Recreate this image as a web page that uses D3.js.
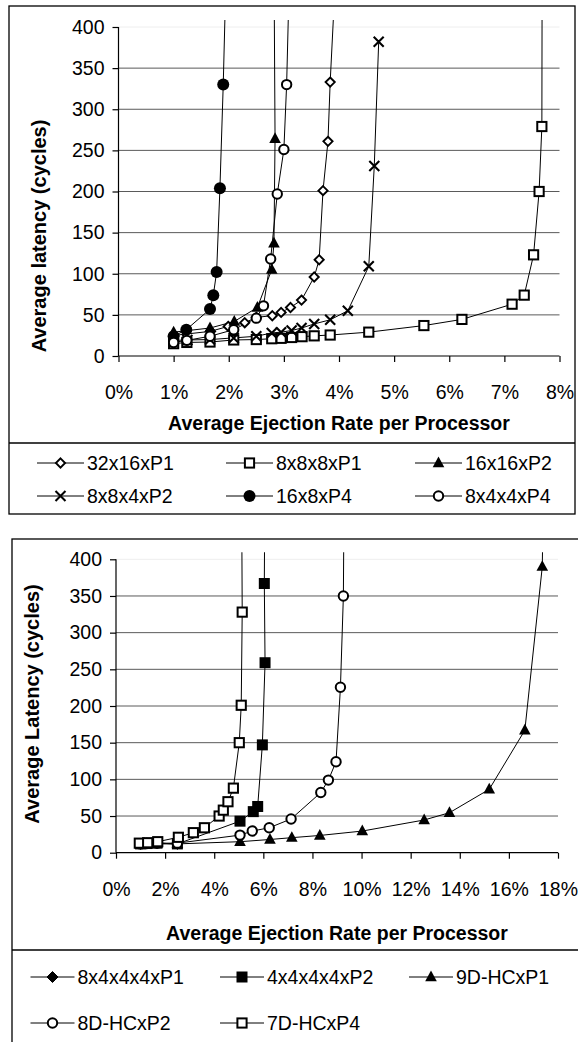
<!DOCTYPE html>
<html>
<head>
<meta charset="utf-8">
<script src="https://cdn.jsdelivr.net/npm/d3@7"></script>
<style>
  body { margin: 0; background: #fff; }
  svg { display: block; font-family: "Liberation Sans", Arial, sans-serif; }
</style>
</head>
<body>
<svg id="chart" width="578" height="1042"></svg>
<script>
// ---- data: [ejection rate %, latency cycles] ----
// top chart
const p32x16xP1 = [[1,25],[1.67,30],[1.99,36],[2.29,40.5],[2.5,47],[2.79,49],[2.95,53],[3.12,59],[3.32,68],[3.55,96],[3.64,117],[3.71,201],[3.8,261],[3.84,333],[4.04,600]];
const p8x8x8xP1 = [[1,15],[1.24,16.5],[1.66,17],[2.09,19.5],[2.5,20],[2.78,21],[2.95,21.5],[3.14,22.5],[3.33,23.5],[3.55,24.5],[3.84,25.5],[4.54,29],[5.54,37],[6.23,44.5],[7.14,63],[7.36,74],[7.53,123],[7.63,200],[7.68,279],[7.69,650]];
const p16x16xP2 = [[1,29],[1.66,34],[2.1,42],[2.52,59],[2.78,105],[2.82,137],[2.84,264],[2.81,600]];
const p8x8x4xP2 = [[1,19],[1.25,19.5],[1.66,20],[2.09,22],[2.5,24],[2.78,28],[2.95,29],[3.14,31],[3.32,34],[3.55,39],[3.84,44],[4.16,55],[4.54,109],[4.64,231],[4.72,382]];
const p16x8xP4 = [[1,24],[1.23,32],[1.66,57],[1.72,74],[1.78,102],[1.84,204],[1.9,330],[2.04,700]];
const p8x4x4xP4 = [[1,16.5],[1.24,19],[1.66,24],[2.09,32],[2.5,46],[2.63,61],[2.76,118],[2.88,197],[3.0,251],[3.05,330],[3.17,650]];

// bottom chart
const p8x4x4x4xP1 = [[1,12],[1.25,12.5],[1.67,13],[2.5,12]];
const p4x4x4x4xP2 = [[1,12],[1.25,12.5],[1.67,13],[2.5,12],[5.05,43],[5.59,56],[5.77,63],[5.96,147],[6.07,259],[6.04,367],[6.09,650]];
const p9DHCxP1 = [[1,11],[1.25,11.5],[1.67,12],[2.5,12],[5.05,15],[6.27,18],[7.16,20.5],[8.3,23.5],[10.03,29.5],[12.55,44.6],[13.58,54.5],[15.2,86.4],[16.65,167],[17.36,390],[17.45,600]];
const p8DHCxP2 = [[1,12],[1.25,12.5],[1.67,13],[2.5,13],[5.05,24],[5.55,29.5],[6.24,34],[7.13,46],[8.34,82],[8.65,99],[8.96,124],[9.14,225.5],[9.26,350],[9.32,650]];
const p7DHCxP4 = [[0.95,13],[1.29,13.6],[1.7,15],[2.54,21],[3.15,27.3],[3.6,34],[4.2,50],[4.37,58],[4.56,69.5],[4.78,88],[5.02,150],[5.1,201],[5.14,328],[5.1,600]];

const topNames = ["32x16xP1", "8x8x8xP1", "16x16xP2", "8x8x4xP2", "16x8xP4", "8x4x4xP4"];
const botNames = ["8x4x4x4xP1", "4x4x4x4xP2", "9D-HCxP1", "8D-HCxP2", "7D-HCxP4"];
const yTicks = [0, 50, 100, 150, 200, 250, 300, 350, 400];
const topXTicks = [0, 1, 2, 3, 4, 5, 6, 7, 8];
const botXTicks = [0, 2, 4, 6, 8, 10, 12, 14, 16, 18];

const svg = d3.select("#chart");
svg.append("rect").attr("width", 578).attr("height", 1042).attr("fill", "#fff");

function marker(g, type, x, y) {
  let r;
  switch (type) {
    case "diamond":
    case "fdiamond":
      r = type === "diamond" ? 4.6 : 5.5;
      g.append("path")
        .attr("d", `M${x},${y - r}L${x + r},${y}L${x},${y + r}L${x - r},${y}Z`)
        .attr("fill", type === "diamond" ? "#fff" : "#000")
        .attr("stroke", "#000").attr("stroke-width", type === "diamond" ? 1.9 : 1);
      break;
    case "square":
      g.append("rect").attr("x", x - 4.6).attr("y", y - 4.6).attr("width", 9.2).attr("height", 9.2)
        .attr("fill", "#fff").attr("stroke", "#000").attr("stroke-width", 2);
      break;
    case "fsquare":
      g.append("rect").attr("x", x - 5.5).attr("y", y - 5.5).attr("width", 11).attr("height", 11)
        .attr("fill", "#000");
      break;
    case "triangle":
      g.append("path")
        .attr("d", `M${x},${y - 6.5}L${x + 5.8},${y + 4.2}L${x - 5.8},${y + 4.2}Z`)
        .attr("fill", "#000");
      break;
    case "x":
      r = 5;
      g.append("path")
        .attr("d", `M${x - r},${y - r}L${x + r},${y + r}M${x - r},${y + r}L${x + r},${y - r}`)
        .attr("stroke", "#000").attr("stroke-width", 2.1).attr("fill", "none");
      break;
    case "dot":
      g.append("circle").attr("cx", x).attr("cy", y).attr("r", 6).attr("fill", "#000");
      break;
    case "circle":
      g.append("circle").attr("cx", x).attr("cy", y).attr("r", 4.7)
        .attr("fill", "#fff").attr("stroke", "#000").attr("stroke-width", 2);
      break;
  }
}

function drawChart(c) {
  const g = svg.append("g");
  const x = d3.scaleLinear().domain([0, c.xMax]).range([c.x0, c.x1]);
  const y = d3.scaleLinear().domain([0, 400]).range([c.y0, c.y1]);

  // outer box + legend separator
  g.append("rect").attr("x", c.box[0]).attr("y", c.box[1]).attr("width", c.box[2]).attr("height", c.box[3])
    .attr("fill", "none").attr("stroke", "#000").attr("stroke-width", 1.3);
  g.append("line").attr("x1", c.box[0]).attr("x2", c.box[0] + c.box[2]).attr("y1", c.sep).attr("y2", c.sep)
    .attr("stroke", "#000").attr("stroke-width", 1.3);

  // gridlines
  g.append("g").selectAll("line").data(yTicks.filter(d => d > 0)).join("line")
    .attr("x1", c.x0).attr("x2", c.x1)
    .attr("y1", d => y(d)).attr("y2", d => y(d))
    .attr("stroke", d => d === 400 ? "#eeeeee" : "#5a5a5a").attr("stroke-width", 1);

  // axes
  const yAxis = g.append("g").attr("transform", `translate(${c.x0},0)`)
    .call(d3.axisLeft(y).tickValues(yTicks).tickSize(6).tickPadding(8));
  const xAxis = g.append("g").attr("transform", `translate(0,${c.y0})`)
    .call(d3.axisBottom(x).tickValues(c.xTicks).tickSize(6).tickPadding(23).tickFormat(d => d + "%"));
  [yAxis, xAxis].forEach(a => {
    a.selectAll(".domain").attr("stroke", "#000").attr("stroke-width", 1.2);
    a.selectAll(".tick line").attr("stroke", "#000").attr("stroke-width", 1.2);
    a.selectAll(".tick text").attr("fill", "#000").style("font-size", "19.5px")
      .style("font-family", '"Liberation Sans", Arial, sans-serif');
  });
  yAxis.select(".domain").attr("d", `M0,${c.y0}V${c.y1}`);
  xAxis.select(".domain").attr("d", `M${c.x0},0H${c.x1}`);

  // titles
  g.append("text").attr("x", (c.x0 + c.x1) / 2).attr("y", c.xTitleY).attr("text-anchor", "middle")
    .style("font-size", "19.5px").style("font-weight", "bold").text("Average Ejection Rate per Processor");
  g.append("text").attr("transform", `translate(${c.yTitleX},${c.yTitleY}) rotate(-90)`)
    .attr("text-anchor", "middle").style("font-size", "20px").style("font-weight", "bold").text(c.yTitle);

  // series
  const clipId = "clip" + c.id;
  svg.append("clipPath").attr("id", clipId).append("rect")
    .attr("x", c.x0 - 10).attr("y", c.y1 - 7).attr("width", c.x1 - c.x0 + 20).attr("height", c.y0 - c.y1 + 17);
  const plot = g.append("g").attr("clip-path", `url(#${clipId})`);
  const line = d3.line().x(d => x(d[0])).y(d => y(d[1]));
  c.series.forEach(s => {
    plot.append("path").datum(s.data).attr("d", line)
      .attr("fill", "none").attr("stroke", "#000").attr("stroke-width", 1);
  });
  c.series.forEach(s => {
    s.data.filter(d => d[1] <= 400).forEach(d => marker(plot, s.type, x(d[0]), y(d[1])));
  });

  // legend
  const lg = g.append("g");
  c.series.forEach((s, i) => {
    const lx = c.legX[i % 3];
    const ly = c.legY[Math.floor(i / 3)];
    lg.append("line").attr("x1", lx).attr("x2", lx + c.legLine).attr("y1", ly).attr("y2", ly)
      .attr("stroke", "#000").attr("stroke-width", 1);
    marker(lg, s.type, lx + c.legLine / 2, ly);
    lg.append("text").attr("x", lx + c.legLine + 3).attr("y", ly + 7)
      .style("font-size", "19.5px").text(s.name);
  });
}

drawChart({
  id: "top", xMax: 8, xTicks: topXTicks,
  x0: 118.5, x1: 559.5, y0: 356, y1: 27,
  box: [9, 6, 566, 508], sep: 443,
  xTitleY: 430, yTitleX: 46, yTitleY: 236, yTitle: "Average latency (cycles)",
  legX: [37, 226, 415], legY: [463, 496], legLine: 47,
  series: [
    { name: topNames[0], data: p32x16xP1, type: "diamond" },
    { name: topNames[1], data: p8x8x8xP1, type: "square" },
    { name: topNames[2], data: p16x16xP2, type: "triangle" },
    { name: topNames[3], data: p8x8x4xP2, type: "x" },
    { name: topNames[4], data: p16x8xP4, type: "dot" },
    { name: topNames[5], data: p8x4x4xP4, type: "circle" }
  ]
});

drawChart({
  id: "bot", xMax: 18, xTicks: botXTicks,
  x0: 116, x1: 558, y0: 852.7, y1: 559.3,
  box: [12, 539, 600, 520], sep: 950,
  xTitleY: 940, yTitleX: 38.5, yTitleY: 704, yTitle: "Average Latency (cycles)",
  legX: [30.5, 220, 409], legY: [977, 1023], legLine: 44,
  series: [
    { name: botNames[0], data: p8x4x4x4xP1, type: "fdiamond" },
    { name: botNames[1], data: p4x4x4x4xP2, type: "fsquare" },
    { name: botNames[2], data: p9DHCxP1, type: "triangle" },
    { name: botNames[3], data: p8DHCxP2, type: "circle" },
    { name: botNames[4], data: p7DHCxP4, type: "square" }
  ]
});
</script>
</body>
</html>
